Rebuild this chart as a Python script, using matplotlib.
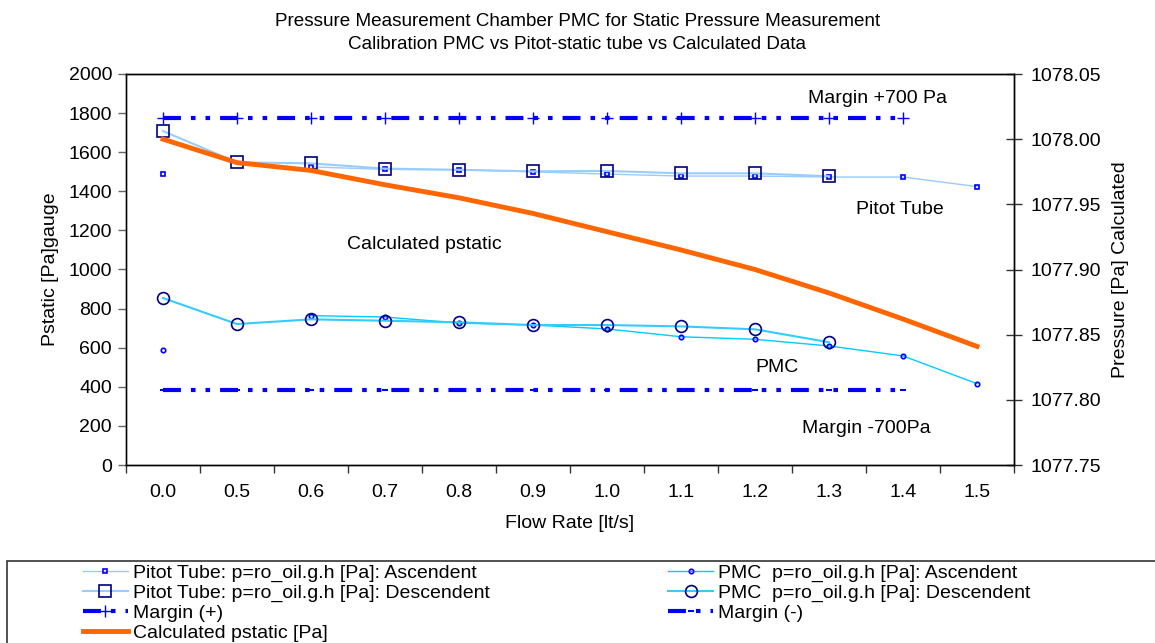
import numpy as np
import matplotlib
matplotlib.use('Agg')
import matplotlib.pyplot as plt
from matplotlib.patches import Rectangle

plt.rcParams['font.family'] = ['Liberation Sans', 'DejaVu Sans']

flow = ['0.0', '0.5', '0.6', '0.7', '0.8', '0.9', '1.0', '1.1', '1.2', '1.3', '1.4', '1.5']
pitot_asc = [1490, np.nan, 1525, 1512, 1510, 1500, 1488, 1478, 1478, 1473, 1473, 1424]
pitot_desc = [1708, 1548, 1543, 1516, 1510, 1502, 1504, 1492, 1492, 1477, np.nan, np.nan]
pmc_asc = [588, np.nan, 764, 757, 726, 716, 696, 656, 643, 609, 558, 416]
pmc_desc = [854, 721, 745, 738, 730, 716, 716, 709, 694, 628, np.nan, np.nan]
margin_plus = [1775] * 11
margin_minus = [385] * 11
calc = [1078.000, 1077.982, 1077.976, 1077.965, 1077.955, 1077.943,
        1077.929, 1077.915, 1077.900, 1077.882, 1077.862, 1077.841]

x = np.arange(len(flow))
fs = 14

fig = plt.figure(figsize=(11.55, 6.43), dpi=100)
ax = fig.add_axes([126/1155, 1-465/643, (1014-126)/1155, (465-74)/643])
ax2 = ax.twinx()

dash = (4.3, 2.4, 1.1, 2.4, 1.1, 2.4)
l1, = ax.plot(x, pitot_asc, '-', color='#99ccff', lw=1, marker='s', ms=3.2,
              mfc='none', mec='#0000ff', mew=1.2, label='Pitot Tube: p=ro_oil.g.h [Pa]: Ascendent')
l2, = ax.plot(x, pitot_desc, '-', color='#99ccff', lw=1.5, marker='s', ms=8,
              mfc='none', mec='#000080', mew=1.2, label='Pitot Tube: p=ro_oil.g.h [Pa]: Descendent')
l3, = ax.plot(x, pmc_asc, '-', color='#00ccff', lw=1, marker='o', ms=3.2,
              mfc='none', mec='#0000ff', mew=1.2, label='PMC  p=ro_oil.g.h [Pa]: Ascendent')
l4, = ax.plot(x, pmc_desc, '-', color='#33ccff', lw=1.5, marker='o', ms=8.5,
              mfc='none', mec='#000080', mew=1.2, label='PMC  p=ro_oil.g.h [Pa]: Descendent')
l5, = ax.plot(x[:11], margin_plus, color='#0000ff', lw=3, dashes=dash,
              marker='+', ms=9, mew=1, label='Margin (+)')
l6, = ax.plot(x[:11], margin_minus, color='#0000ff', lw=3, dashes=dash,
              marker='_', ms=4, mew=1.5, label='Margin (-)')
l7, = ax2.plot(x, calc, '-', color='#ff6600', lw=3.5, label='Calculated pstatic [Pa]')

ax.set_xlim(-0.5, len(flow) - 0.5)
ax.set_ylim(0, 2000)
ax.set_yticks(np.arange(0, 2001, 200))
ax2.set_ylim(1077.75, 1078.05)
ax2.set_yticks(np.arange(1077.75, 1078.051, 0.05))
ax2.set_yticklabels(['%.2f' % v for v in np.arange(1077.75, 1078.051, 0.05)])

ax.set_xticks(x)
ax.set_xticklabels(flow)
ax.set_xticks(np.arange(-0.5, len(flow)), minor=True)
ax.tick_params(axis='x', which='major', length=0, pad=14, labelsize=fs)
ax.tick_params(axis='x', which='minor', length=6, direction='out', width=1, color='#333333')
ax.tick_params(axis='y', length=6, direction='out', width=1, color='#666666', labelsize=fs, pad=4)
ax2.tick_params(axis='y', length=12, direction='inout', width=1, color='#333333', labelsize=fs, pad=6)

for s in ax.spines.values():
    s.set_linewidth(1)
for s in ax2.spines.values():
    s.set_linewidth(1)
ax.spines['left'].set_color('#333333')

ax.set_xlabel('Flow Rate [lt/s]', fontsize=fs, labelpad=10)
ax.set_ylabel('Pstatic [Pa]gauge', fontsize=fs, labelpad=7)
ax2.set_ylabel('Pressure [Pa] Calculated', fontsize=fs, labelpad=8)

fig.text(0.5, 1-33/643, 'Pressure Measurement Chamber PMC for Static Pressure Measurement\n'
         'Calibration PMC vs Pitot-static tube vs Calculated Data',
         ha='center', va='center', fontsize=13.6, linespacing=1.5)

ax.text(8.72, 1877, 'Margin +700 Pa', fontsize=fs, va='center')
ax.text(9.36, 1309, 'Pitot Tube', fontsize=fs, va='center')
ax.text(2.49, 1130, 'Calculated pstatic', fontsize=fs, va='center')
ax.text(8.01, 501, 'PMC', fontsize=fs, va='center')
ax.text(8.64, 189, 'Margin -700Pa', fontsize=fs, va='center')

# Legend ...................................................................
fig.patches.append(Rectangle((7/1155, -0.1), 1.2, 0.1 + 1 - 561/643, transform=fig.transFigure,
                             fill=False, edgecolor='#333333', lw=1.2, clip_on=False))
handles = [l1, l2, l5, l7, l3, l4, l6]
fig.legend(handles, [h.get_label() for h in handles], ncol=2, frameon=False,
           loc='upper left', bbox_to_anchor=(83/1155, 1-564/643), fontsize=fs,
           handlelength=2.3, handletextpad=0.25, labelspacing=0.12, columnspacing=9.2,
           borderaxespad=0, borderpad=0)

fig.savefig('out.png', dpi=100)
